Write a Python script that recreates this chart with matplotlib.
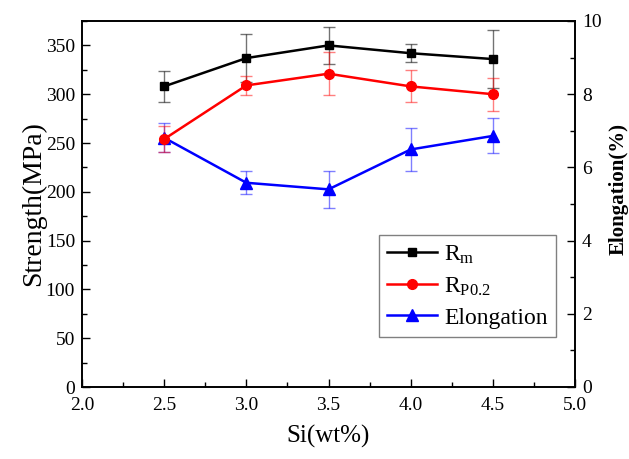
import numpy as np
import matplotlib.pyplot as plt
from matplotlib.ticker import MultipleLocator

plt.rcParams['font.family'] = ['Liberation Serif', 'DejaVu Serif']
plt.rcParams['mathtext.fontset'] = 'custom'
plt.rcParams['mathtext.rm'] = 'Liberation Serif'
plt.rcParams['mathtext.it'] = 'Liberation Serif:italic'

si = [2.5, 3.0, 3.5, 4.0, 4.5]

rm = [308, 337, 350, 342, 336]
rm_err = [16, 25, 19, 9, 30]

rp = [254, 309, 321, 308, 300]
rp_err = [13, 9.5, 22, 16.5, 17]

elong = [6.81, 5.58, 5.40, 6.49, 6.86]
elong_err = [0.39, 0.32, 0.51, 0.59, 0.48]

series_names = [r'R$_\mathrm{m}$', r'R$_\mathrm{P0.2}$', 'Elongation']

fig = plt.figure(figsize=(6.29, 4.59), dpi=100)
ax = fig.add_axes([82/629, 1 - 387/459, 493/629, 366/459])
ax2 = ax.twinx()

l1 = ax.errorbar(si, rm, yerr=rm_err, color='black', marker='s', ms=6, lw=1.8,
                 ecolor=(0, 0, 0, 0.55), elinewidth=1.0, capsize=4, capthick=1.0)
l2 = ax.errorbar(si, rp, yerr=rp_err, color='red', marker='o', ms=7, lw=1.8,
                 ecolor=(1, 0, 0, 0.5), elinewidth=1.0, capsize=4, capthick=1.0)
l3 = ax2.errorbar(si, elong, yerr=elong_err, color='blue', marker='^', ms=8, lw=1.8,
                  ecolor=(0, 0, 1, 0.5), elinewidth=1.0, capsize=4, capthick=1.0)

ax.set_xlim(2.0, 5.0)
ax.set_ylim(0, 375)
ax2.set_ylim(0, 10)

ax.xaxis.set_major_locator(MultipleLocator(0.5))
ax.xaxis.set_minor_locator(MultipleLocator(0.25))
ax.yaxis.set_major_locator(MultipleLocator(50))
ax.yaxis.set_minor_locator(MultipleLocator(25))
ax2.yaxis.set_major_locator(MultipleLocator(2))
ax2.yaxis.set_minor_locator(MultipleLocator(1))
ax.xaxis.set_major_formatter(plt.FormatStrFormatter('%.1f'))

ax.tick_params(which='both', direction='in', top=False, right=False, labelsize=14)
ax.tick_params(which='major', length=6, width=1.0, pad=5)
ax.tick_params(which='minor', length=3.5, width=1.0)
ax.tick_params(axis='x', which='major', pad=7)
ax2.tick_params(which='both', direction='in', labelsize=14)
ax2.tick_params(which='major', length=6, width=1.0, pad=5)
ax2.tick_params(which='minor', length=3.5, width=1.0)

for a in (ax, ax2):
    for s in a.spines.values():
        s.set_linewidth(1.2)

ax.set_xlabel('Si(wt%)', fontsize=18, labelpad=8)
ax.set_ylabel('Strength(MPa)', fontsize=20, labelpad=0)
ax2.set_ylabel('Elongation(%)', fontsize=15, fontweight='bold')
ax2.yaxis.set_label_coords(1.069, 0.54)

leg = ax.legend([l1[0], l2[0], l3[0]], series_names, loc='lower right',
                bbox_to_anchor=(0.961, 0.137), fontsize=17, fancybox=False,
                edgecolor='gray', framealpha=1, handlelength=2.1,
                borderpad=0.35, labelspacing=0.4, handletextpad=0.3,
                borderaxespad=0)
leg.get_frame().set_linewidth(1.0)
ax.set_zorder(ax2.get_zorder() + 1)
ax.patch.set_visible(False)

fig.savefig('out.png', dpi=100)
